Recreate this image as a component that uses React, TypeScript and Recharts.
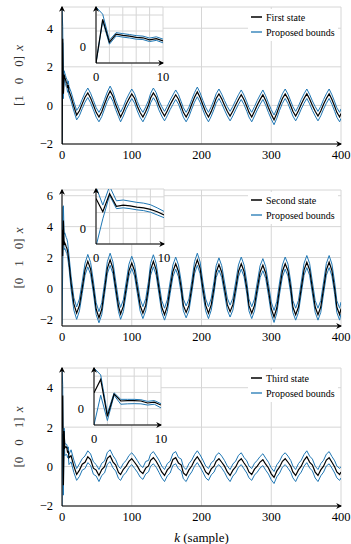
import React from 'react';
import { CartesianGrid, Legend, Line, LineChart, XAxis, YAxis } from 'recharts';

const BLUE = '#1f77b4';
const GRID = '#d6d6d6';
const FONT = '"Liberation Serif", "Times New Roman", serif';

// sample index k (every step for the first ten, so the insets get them all)
const kSteps = [
  0, 1, 2, 3, 4, 5, 6, 7, 8, 9, 10,
  13, 17, 21,
  25, 29, 33, 37, 41, 45, 49, 53, 57, 61, 65, 69, 73, 77, 81, 84,
  88, 92, 96, 100, 104, 108, 112, 116, 120, 124, 127, 131, 135, 139, 143, 147,
  151, 155, 159, 163, 167, 171, 174, 178, 182, 186, 190, 194, 198, 202, 206, 210,
  214, 218, 221, 225, 229, 233, 237, 241, 245, 249, 253, 257, 261, 265, 268, 272,
  276, 280, 284, 288, 292, 296, 300, 304, 308, 312, 316, 320, 324, 328, 331, 335,
  339, 343, 347, 351, 355, 359, 363, 367, 371, 375, 379, 383, 387, 391, 394, 398,
  400,
];

const firstState = [
  -2.0, 3.45, 0.6, 1.6, 1.45, 1.35, 1.2, 1.15, 0.9, 1.05, 0.75,
  0.45, -0.05, -0.5,
  -0.28, 0.08, 0.42, 0.65, 0.38, 0.02, -0.36, -0.6, -0.33, 0.07, 0.45, 0.75, 0.47, 0.03, -0.33, -0.6,
  -0.3, 0.06, 0.34, 0.6, 0.37, -0.04, -0.37, -0.6, -0.32, 0.02, 0.38, 0.65, 0.42, 0.01, -0.3, -0.55,
  -0.28, 0.03, 0.3, 0.55, 0.32, -0.06, -0.36, -0.6, -0.33, 0.06, 0.42, 0.7, 0.41, 0.02, -0.34, -0.6,
  -0.31, 0.05, 0.36, 0.6, 0.34, 0.01, -0.3, -0.55, -0.29, 0.02, 0.31, 0.55, 0.29, -0.06, -0.35, -0.6,
  -0.3, 0.02, 0.3, 0.55, 0.26, -0.12, -0.46, -0.75, -0.41, 0.0, 0.36, 0.6, 0.34, -0.02, -0.3, -0.55,
  -0.28, 0.06, 0.36, 0.6, 0.33, -0.01, -0.3, -0.55, -0.29, 0.06, 0.36, 0.6, 0.31, -0.06, -0.36, -0.6,
  -0.42,
];
const firstUpper = [
  5.0, 4.1, 0.85, 1.8, 1.67, 1.56, 1.42, 1.36, 1.12, 1.27, 0.98,
  0.7, 0.2, -0.26,
  -0.04, 0.32, 0.65, 0.9, 0.63, 0.26, -0.12, -0.36, -0.09, 0.31, 0.7, 1.0, 0.71, 0.27, -0.09, -0.35,
  -0.06, 0.3, 0.59, 0.85, 0.61, 0.2, -0.13, -0.36, -0.08, 0.26, 0.62, 0.9, 0.66, 0.25, -0.06, -0.31,
  -0.04, 0.27, 0.54, 0.8, 0.56, 0.18, -0.12, -0.36, -0.09, 0.3, 0.66, 0.95, 0.65, 0.26, -0.1, -0.36,
  -0.07, 0.29, 0.6, 0.85, 0.58, 0.25, -0.06, -0.31, -0.05, 0.26, 0.55, 0.8, 0.53, 0.18, -0.11, -0.36,
  -0.06, 0.26, 0.54, 0.8, 0.5, 0.12, -0.22, -0.5, -0.17, 0.24, 0.6, 0.85, 0.58, 0.22, -0.06, -0.31,
  -0.04, 0.3, 0.6, 0.85, 0.57, 0.23, -0.06, -0.31, -0.05, 0.3, 0.6, 0.85, 0.55, 0.18, -0.12, -0.36,
  -0.18,
];
const firstLower = [
  -2.0, 3.25, 0.35, 1.38, 1.24, 1.13, 0.98, 0.93, 0.68, 0.83, 0.52,
  0.21, -0.29, -0.75,
  -0.53, -0.17, 0.17, 0.41, 0.13, -0.23, -0.61, -0.85, -0.58, -0.18, 0.2, 0.49, 0.22, -0.22, -0.58, -0.85,
  -0.55, -0.19, 0.09, 0.36, 0.12, -0.29, -0.62, -0.85, -0.57, -0.23, 0.13, 0.4, 0.17, -0.24, -0.55, -0.8,
  -0.53, -0.22, 0.05, 0.31, 0.07, -0.31, -0.61, -0.85, -0.58, -0.19, 0.17, 0.45, 0.16, -0.23, -0.59, -0.85,
  -0.56, -0.2, 0.11, 0.36, 0.09, -0.24, -0.55, -0.8, -0.54, -0.23, 0.06, 0.31, 0.04, -0.31, -0.6, -0.85,
  -0.55, -0.23, 0.05, 0.31, 0.01, -0.37, -0.71, -1.0, -0.66, -0.25, 0.11, 0.36, 0.09, -0.27, -0.55, -0.8,
  -0.53, -0.19, 0.11, 0.36, 0.08, -0.26, -0.55, -0.8, -0.54, -0.19, 0.11, 0.36, 0.06, -0.31, -0.61, -0.85,
  -0.67,
];

const secondState = [
  3.8, 2.1, 4.4, 2.8, 2.95, 2.85, 2.7, 2.6, 2.4, 2.1, 1.7,
  0.35, -1.0, -1.6,
  -1.1, 0.02, 1.2, 1.75, 1.25, 0.05, -1.35, -1.9, -1.35, -0.05, 1.3, 1.85, 1.3, 0.05, -1.15, -1.65,
  -1.15, 0.0, 1.15, 1.65, 1.15, 0.02, -1.1, -1.6, -1.1, 0.05, 1.2, 1.75, 1.2, 0.0, -1.2, -1.7,
  -1.15, 0.0, 1.1, 1.6, 1.1, 0.0, -1.1, -1.55, -1.1, 0.05, 1.3, 1.85, 1.3, 0.0, -1.1, -1.6,
  -1.05, 0.05, 1.05, 1.55, 1.05, 0.0, -1.05, -1.5, -1.05, 0.0, 1.1, 1.6, 1.1, 0.0, -1.1, -1.6,
  -1.1, 0.0, 1.05, 1.5, 1.0, -0.1, -1.3, -1.85, -1.25, 0.0, 1.1, 1.6, 1.15, 0.0, -1.2, -1.7,
  -1.2, 0.0, 1.2, 1.7, 1.2, 0.0, -1.2, -1.7, -1.2, 0.0, 1.2, 1.7, 1.15, -0.05, -1.2, -1.7,
  -1.3,
];
const secondUpper = [
  5.3, 2.95, 5.35, 3.5, 3.6, 3.45, 3.3, 3.2, 3.0, 2.6, 2.15,
  0.8, -0.6, -1.2,
  -0.68, 0.45, 1.63, 2.2, 1.68, 0.48, -0.93, -1.5, -0.93, 0.37, 1.73, 2.28, 1.72, 0.47, -0.73, -1.23,
  -0.73, 0.42, 1.57, 2.08, 1.57, 0.45, -0.68, -1.18, -0.67, 0.47, 1.63, 2.18, 1.62, 0.42, -0.78, -1.28,
  -0.73, 0.42, 1.52, 2.03, 1.52, 0.42, -0.68, -1.13, -0.68, 0.47, 1.73, 2.28, 1.72, 0.42, -0.68, -1.18,
  -0.63, 0.47, 1.47, 1.98, 1.47, 0.42, -0.63, -1.08, -0.63, 0.42, 1.52, 2.03, 1.52, 0.42, -0.68, -1.18,
  -0.68, 0.42, 1.47, 1.93, 1.42, 0.32, -0.88, -1.42, -0.83, 0.42, 1.52, 2.03, 1.57, 0.42, -0.78, -1.28,
  -0.78, 0.42, 1.62, 2.13, 1.62, 0.42, -0.78, -1.28, -0.78, 0.42, 1.62, 2.13, 1.57, 0.37, -0.78, -1.28,
  -0.88,
];
const secondLower = [
  -2.3, 1.2, 4.2, 2.5, 2.6, 2.5, 2.35, 2.25, 2.05, 1.7, 1.35,
  -0.05, -1.4, -2.0,
  -1.45, -0.33, 0.85, 1.4, 0.9, -0.3, -1.7, -2.22, -1.7, -0.4, 0.95, 1.5, 0.95, -0.3, -1.5, -2.0,
  -1.5, -0.35, 0.8, 1.3, 0.8, -0.33, -1.45, -1.95, -1.45, -0.3, 0.85, 1.4, 0.85, -0.35, -1.55, -2.05,
  -1.5, -0.35, 0.75, 1.25, 0.75, -0.35, -1.45, -1.9, -1.45, -0.3, 0.95, 1.5, 0.95, -0.35, -1.45, -1.95,
  -1.4, -0.3, 0.7, 1.2, 0.7, -0.35, -1.4, -1.85, -1.4, -0.35, 0.75, 1.25, 0.75, -0.35, -1.45, -1.95,
  -1.45, -0.35, 0.7, 1.15, 0.65, -0.45, -1.65, -2.2, -1.6, -0.35, 0.75, 1.25, 0.8, -0.35, -1.55, -2.05,
  -1.55, -0.35, 0.85, 1.35, 0.85, -0.35, -1.55, -2.05, -1.55, -0.35, 0.85, 1.35, 0.8, -0.4, -1.55, -2.05,
  -1.65,
];

const thirdState = [
  1.95, 3.6, -0.95, 1.8, 0.95, 1.0, 1.0, 0.95, 0.7, 0.8, 0.45,
  0.55, 0.02, -0.4,
  -0.18, 0.12, 0.22, 0.5, 0.36, -0.08, -0.18, -0.45, -0.15, 0.0, 0.42, 0.55, 0.24, 0.08, -0.3, -0.4,
  -0.14, 0.02, 0.26, 0.4, 0.22, 0.02, -0.23, -0.35, -0.08, 0.03, 0.32, 0.45, 0.27, 0.02, -0.27, -0.45,
  -0.17, -0.02, 0.36, 0.45, 0.18, 0.08, -0.32, -0.45, -0.17, 0.03, 0.32, 0.5, 0.28, 0.03, -0.27, -0.4,
  -0.12, 0.02, 0.27, 0.4, 0.22, 0.02, -0.27, -0.45, -0.18, -0.02, 0.27, 0.4, 0.18, -0.02, -0.27, -0.4,
  -0.13, 0.02, 0.23, 0.35, 0.12, -0.07, -0.37, -0.55, -0.22, -0.02, 0.27, 0.4, 0.22, 0.02, -0.27, -0.45,
  -0.17, 0.02, 0.32, 0.5, 0.23, 0.08, -0.28, -0.45, -0.17, 0.02, 0.33, 0.45, 0.22, -0.02, -0.27, -0.4,
  -0.28,
];
const thirdUpper = [
  5.0, 4.15, -0.6, 1.95, 1.15, 1.15, 1.15, 1.1, 0.9, 1.0, 0.62,
  0.85, 0.33, -0.1,
  0.14, 0.4, 0.54, 0.8, 0.64, 0.24, 0.1, -0.15, 0.17, 0.28, 0.72, 0.85, 0.56, 0.35, 0.0, -0.1,
  0.17, 0.31, 0.56, 0.7, 0.53, 0.31, 0.08, -0.05, 0.26, 0.31, 0.63, 0.76, 0.55, 0.33, 0.03, -0.15,
  0.15, 0.27, 0.66, 0.76, 0.46, 0.38, -0.02, -0.15, 0.15, 0.33, 0.61, 0.8, 0.59, 0.33, 0.03, -0.1,
  0.19, 0.31, 0.57, 0.7, 0.53, 0.31, 0.03, -0.15, 0.13, 0.28, 0.57, 0.7, 0.46, 0.29, 0.03, -0.1,
  0.17, 0.32, 0.51, 0.65, 0.43, 0.22, -0.07, -0.25, 0.09, 0.28, 0.57, 0.7, 0.53, 0.31, 0.03, -0.15,
  0.15, 0.32, 0.61, 0.8, 0.53, 0.38, 0.02, -0.15, 0.15, 0.32, 0.63, 0.76, 0.51, 0.29, 0.03, -0.1,
  0.0,
];
const thirdLower = [
  -2.0, 1.65, -1.45, 1.65, 0.55, 0.6, 0.62, 0.6, 0.45, 0.55, 0.1,
  0.24, -0.3, -0.7,
  -0.5, -0.18, -0.1, 0.2, 0.06, -0.39, -0.48, -0.76, -0.45, -0.32, 0.12, 0.25, -0.06, -0.23, -0.6, -0.7,
  -0.44, -0.29, -0.04, 0.1, -0.09, -0.28, -0.53, -0.65, -0.38, -0.27, 0.02, 0.14, -0.03, -0.29, -0.57, -0.76,
  -0.47, -0.33, 0.06, 0.14, -0.12, -0.22, -0.62, -0.76, -0.47, -0.27, 0.02, 0.2, -0.03, -0.28, -0.57, -0.7,
  -0.42, -0.28, -0.03, 0.1, -0.08, -0.29, -0.57, -0.76, -0.48, -0.32, -0.03, 0.1, -0.12, -0.33, -0.57, -0.7,
  -0.43, -0.28, -0.07, 0.05, -0.18, -0.38, -0.67, -0.86, -0.52, -0.33, -0.03, 0.1, -0.08, -0.29, -0.57, -0.76,
  -0.47, -0.28, 0.02, 0.2, -0.07, -0.22, -0.58, -0.76, -0.47, -0.28, 0.03, 0.14, -0.08, -0.33, -0.57, -0.7,
  -0.58,
];

const mainXTicks = [0, 100, 200, 300, 400];
const insetXTicks = [0, 2, 4, 6, 8, 10];
const insetYTicks = [-2, 0, 2, 4];
const outerYTicks = [-2, 0, 2, 4];
const middleYTicks = [-2, 0, 2, 4, 6];
const stateNames = ['First state', 'Second state', 'Third state'];
const boundsName = 'Proposed bounds';
const selectors = [['1', '0', '0'], ['0', '1', '0'], ['0', '0', '1']];

type Row = { k: number; x: number; lo: number; hi: number };

const toRows = (x: number[], lo: number[], hi: number[]): Row[] =>
  kSteps.map((k, i) => ({ k, x: x[i], lo: lo[i], hi: hi[i] }));

const minus = (v: number) => (v < 0 ? `\u2212${-v}` : `${v}`);

const tickStyle = { fill: '#000', fontSize: 12.5, fontFamily: FONT };

const panels = [
  {
    rows: toRows(firstState, firstLower, firstUpper), top: 0, height: 174, xAxisH: 30,
    domain: [-2, 5.1], ticks: outerYTicks, name: stateNames[0], sel: selectors[0],
    inset: { top: 0, width: 180, height: 90, yAxisW: 96 }, xLabel: false,
  },
  {
    rows: toRows(secondState, secondLower, secondUpper), top: 183, height: 173, xAxisH: 30,
    domain: [-2.43, 6.37], ticks: middleYTicks, name: stateNames[1], sel: selectors[1],
    inset: { top: 182, width: 181, height: 89, yAxisW: 96 }, xLabel: false,
  },
  {
    rows: toRows(thirdState, thirdLower, thirdUpper), top: 361, height: 187, xAxisH: 42,
    domain: [-2, 5], ticks: outerYTicks, name: stateNames[2], sel: selectors[2],
    inset: { top: 361, width: 178, height: 91, yAxisW: 94 }, xLabel: true,
  },
];

const ArrowDefs = ({ id }: { id: string }) => (
  <defs>
    <marker id={id} viewBox="0 0 10 10" refX={8} refY={5} markerWidth={6} markerHeight={6}
      markerUnits="userSpaceOnUse" orient="auto-start-reverse">
      <path d="M0,0 L10,5 L0,10 L3,5 Z" fill="#000" />
    </marker>
  </defs>
);

const yLabel = (sel: string[]) => (props: any) => {
  const vb = props.viewBox || {};
  const cx = 18;
  const cy = (vb.y ?? 0) + (vb.height ?? 0) / 2;
  return (
    <text x={cx} y={cy} transform={`rotate(-90 ${cx} ${cy})`} textAnchor="middle"
      dominantBaseline="central" fontFamily={FONT} fontSize={13} fill="#333">
      [{sel[0]}<tspan dx={11}>{sel[1]}</tspan><tspan dx={11}>{sel[2]}</tspan>]
      <tspan dx={5} fontStyle="italic">x</tspan>
    </text>
  );
};

const xLabel = (props: any) => {
  const vb = props.viewBox || {};
  const cx = (vb.x ?? 0) + (vb.width ?? 0) / 2;
  return (
    <text x={cx} y={(vb.y ?? 0) + 36} textAnchor="middle" fontFamily={FONT} fontSize={13} fill="#000">
      <tspan fontStyle="italic">k</tspan> (sample)
    </text>
  );
};

const LegendBox = ({ name }: { name: string }) => (
  <div style={{ background: '#fff', padding: '1px 3px', fontFamily: FONT, fontSize: 10, lineHeight: '15px', color: '#000' }}>
    {[{ label: name, color: '#000', w: 1.5 }, { label: boundsName, color: BLUE, w: 1.3 }].map((it) => (
      <div key={it.label} style={{ display: 'flex', alignItems: 'center', whiteSpace: 'nowrap' }}>
        <svg width={11} height={4} style={{ marginRight: 4 }}>
          <line x1={0} y1={2} x2={11} y2={2} stroke={it.color} strokeWidth={it.w} />
        </svg>
        <span>{it.label}</span>
      </div>
    ))}
  </div>
);

const seriesLines = [
  <Line key="lo" type="linear" dataKey="lo" stroke={BLUE} strokeWidth={1} dot={false} isAnimationActive={false} />,
  <Line key="hi" type="linear" dataKey="hi" stroke={BLUE} strokeWidth={1} dot={false} isAnimationActive={false} />,
  <Line key="x" type="linear" dataKey="x" stroke="#000" strokeWidth={1.2} dot={false} isAnimationActive={false} />,
];

const MainPanel = ({ p, idx }: { p: (typeof panels)[number]; idx: number }) => {
  const arrow = `arrow-main-${idx}`;
  return (
    <div style={{ position: 'absolute', left: 0, top: p.top }}>
      <LineChart width={351} height={p.height} data={p.rows} margin={{ top: 7, right: 10, bottom: 0, left: 0 }}>
        <ArrowDefs id={arrow} />
        <CartesianGrid stroke={GRID} strokeWidth={1} />
        <XAxis dataKey="k" type="number" domain={[0, 400]} ticks={mainXTicks} allowDataOverflow interval={0}
          height={p.xAxisH} tickLine={false} tickSize={6} tickMargin={0} tick={tickStyle}
          axisLine={{ stroke: '#000', strokeWidth: 1, markerEnd: `url(#${arrow})` }}
          label={p.xLabel ? { content: xLabel } : undefined} />
        <YAxis type="number" domain={p.domain} ticks={p.ticks} allowDataOverflow interval={0} width={62}
          tickLine={false} tickSize={6} tickMargin={3} tick={tickStyle} tickFormatter={minus}
          axisLine={{ stroke: '#000', strokeWidth: 1, markerStart: `url(#${arrow})` }}
          label={{ content: yLabel(p.sel) }} />
        <Legend layout="vertical" align="center" verticalAlign="middle"
          wrapperStyle={{ left: 248, top: 8.5 }} content={() => <LegendBox name={p.name} />} />
        {seriesLines}
      </LineChart>
    </div>
  );
};

const InsetPanel = ({ p, idx }: { p: (typeof panels)[number]; idx: number }) => {
  const g = p.inset;
  const arrow = `arrow-inset-${idx}`;
  const rows = p.rows.filter((r) => r.k <= 10);
  return (
    <div style={{ position: 'absolute', left: 0, top: g.top }}>
      <LineChart width={g.width} height={g.height} data={rows} margin={{ top: 7, right: 17, bottom: 0, left: 0 }}>
        <ArrowDefs id={arrow} />
        <CartesianGrid stroke={GRID} strokeWidth={1} fill="#fff" fillOpacity={1} />
        <XAxis dataKey="k" type="number" domain={[0, 10]} ticks={insetXTicks} allowDataOverflow interval={0}
          height={27} tickLine={false} tickSize={6} tickMargin={3} tick={tickStyle}
          tickFormatter={(v: number) => (v === 0 || v === 10 ? `${v}` : '')}
          axisLine={{ stroke: '#000', strokeWidth: 1, markerEnd: `url(#${arrow})` }} />
        <YAxis type="number" domain={[-2, 5]} ticks={insetYTicks} allowDataOverflow interval={0} width={g.yAxisW}
          tickLine={false} tickSize={6} tickMargin={4} tick={tickStyle}
          tickFormatter={(v: number) => (v === 0 ? '0' : '')}
          axisLine={{ stroke: '#000', strokeWidth: 1, markerStart: `url(#${arrow})` }} />
        {seriesLines}
      </LineChart>
    </div>
  );
};

export default function App() {
  return (
    <div style={{ position: 'absolute', left: 0, top: 0, width: 351, height: 544, background: '#fff', overflow: 'hidden', fontFamily: FONT }}>
      {panels.map((p, i) => (
        <React.Fragment key={i}>
          <MainPanel p={p} idx={i} />
          <InsetPanel p={p} idx={i} />
        </React.Fragment>
      ))}
    </div>
  );
}
